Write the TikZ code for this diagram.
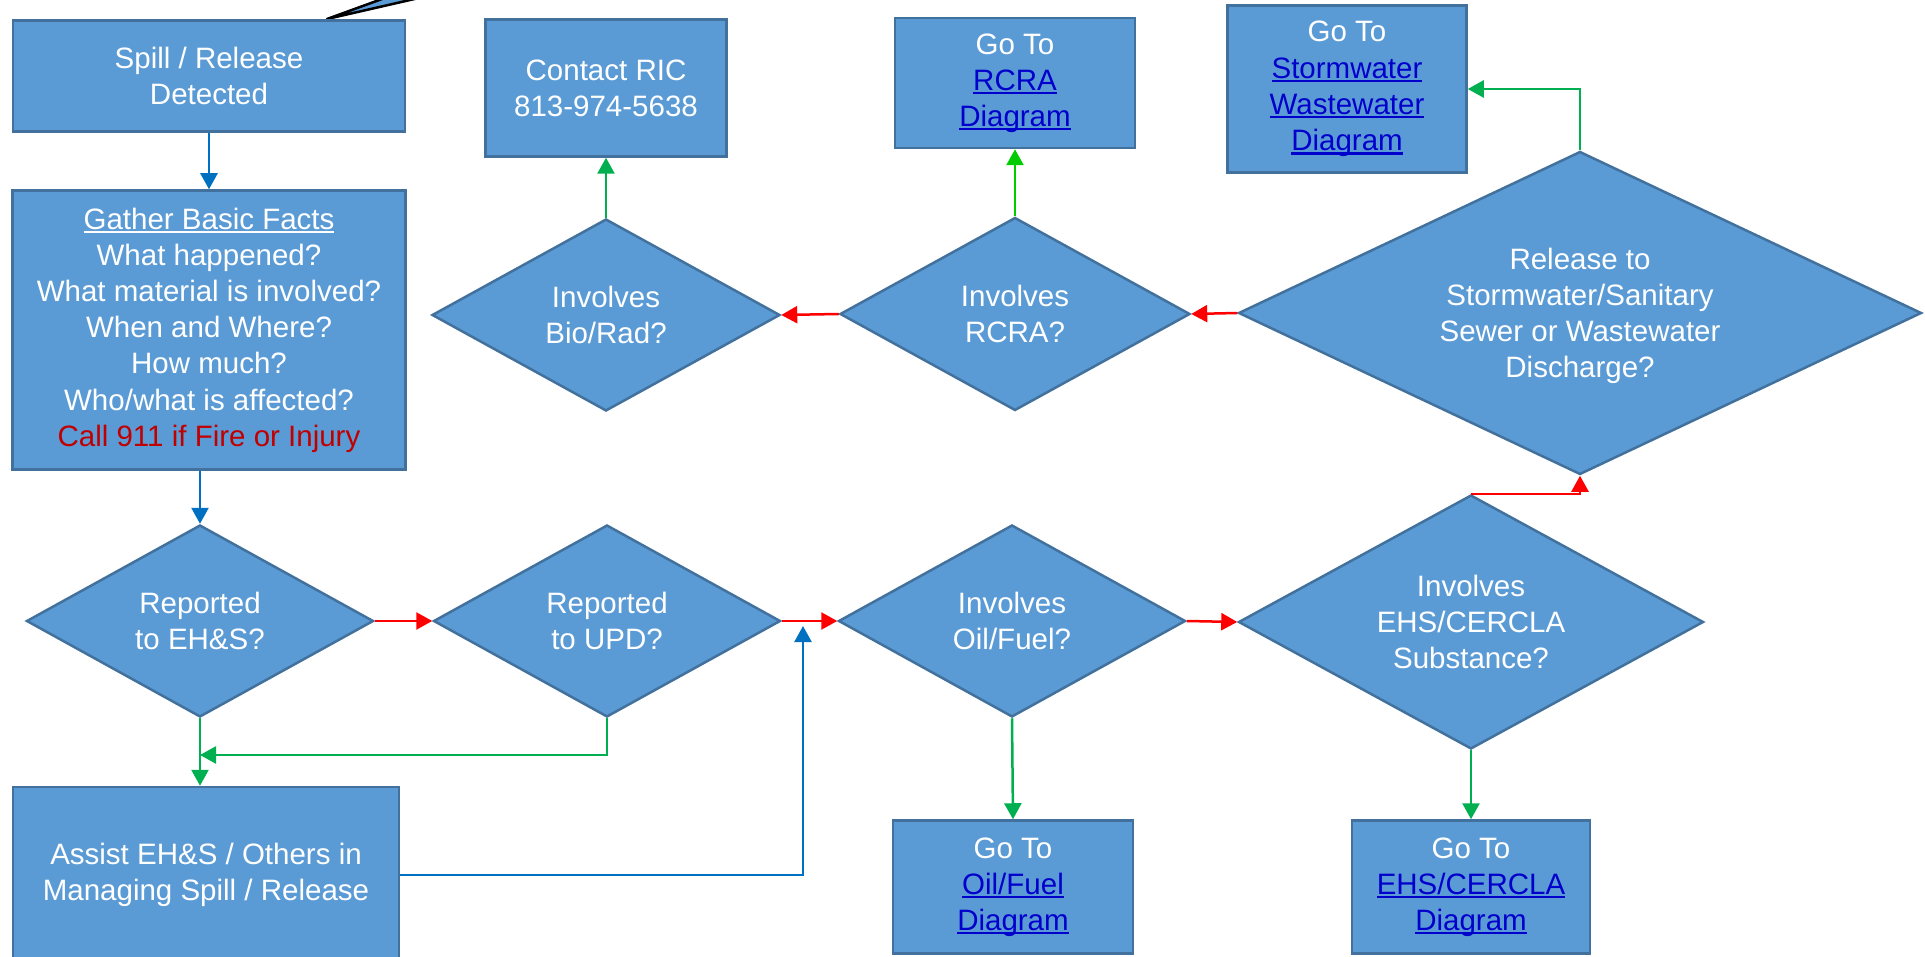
\documentclass[tikz,border=0pt]{standalone}
\usepackage{fontspec}
\setmainfont{Liberation Sans}
\usetikzlibrary{shapes.geometric,arrows.meta}

\definecolor{boxfill}{RGB}{91,155,213}
\definecolor{boxline}{RGB}{65,113,156}
\definecolor{nored}{RGB}{255,0,0}
\definecolor{yesgreen}{RGB}{0,176,80}
\definecolor{yesgreenb}{RGB}{0,204,0}
\definecolor{flowblue}{RGB}{0,112,192}
\definecolor{linkblue}{RGB}{0,0,204}
\definecolor{callred}{RGB}{192,0,0}

\newcommand{\myul}[1]{\setbox0\hbox{#1}\rlap{\rule[-4pt]{\wd0}{2.5pt}}\box0}
\newcommand{\golink}[1]{\textcolor{linkblue}{\myul{#1}}}

\begin{document}
\begin{tikzpicture}[x=1pt,y=-1pt,
		box/.style={rectangle, draw=boxline, fill=boxfill, line width=2.5pt, inner sep=0pt, text=white, align=center, font=\fontsize{29.5}{36.2}\selectfont},
		decision/.style={diamond, draw=boxline, fill=boxfill, line width=2.5pt, inner sep=0pt, text=white, align=center, font=\fontsize{29.5}{36}\selectfont},
		flow/.style={line width=2.5pt, -{Triangle[length=16pt,width=17pt]}}]
	\useasboundingbox (0,0) rectangle (1925,957);
	\clip (0,0) rectangle (1925,957);

	% pointer of a callout, cut off by the page
	\filldraw[fill=boxfill, draw=black, line width=2.5pt, line join=round] (327,19) -- (393,-5) -- (432,-5) -- cycle;

	\node[box, minimum width=392pt, minimum height=111pt] (spill) at (209,76) {Spill / Release\\Detected};
	\node[box, minimum width=393pt, minimum height=279pt] (facts) at (209,330) {\myul{Gather Basic Facts}\\What happened?\\What material is involved?\\When and Where?\\How much?\\Who/what is affected?\\\textcolor{callred}{Call 911 if Fire or Injury}};
	\node[box, minimum width=241pt, minimum height=137pt] (ric) at (606,88) {Contact RIC\\813-974-5638};
	\node[box, minimum width=240pt, minimum height=130pt] (rcrago) at (1015,83) {Go To\\\golink{RCRA}\\\golink{Diagram}};
	\node[box, minimum width=239pt, minimum height=167pt] (stormgo) at (1347,89) {Go To\\\golink{Stormwater}\\\golink{Wastewater}\\\golink{Diagram}};

	% upper row of questions
	\node[decision, minimum width=348pt, minimum height=192pt, aspect=1.8] (biorad) at (606,315) {Involves\\Bio/Rad?};
	\node[decision, minimum width=350pt, minimum height=193pt, aspect=1.8] (rcra) at (1015,314) {Involves\\RCRA?};
	\node[decision, minimum width=683pt, minimum height=323pt, aspect=2.1] (release) at (1580,313) {\\[-8pt]Release to\\Stormwater/Sanitary\\Sewer or Wastewater\\Discharge?};

	% lower row of questions
	\node[decision, minimum width=347pt, minimum height=192pt, aspect=1.8] (ehs) at (200,621) {Reported\\to EH\&S?};
	\node[decision, minimum width=347pt, minimum height=192pt, aspect=1.8] (upd) at (607,621) {Reported\\to UPD?};
	\node[decision, minimum width=347pt, minimum height=192pt, aspect=1.8] (oil) at (1012,621) {Involves\\Oil/Fuel?};
	\node[decision, minimum width=465pt, minimum height=254pt, aspect=1.83] (cercla) at (1471,622) {Involves\\EHS/CERCLA\\Substance?};

	\node[box, minimum width=386pt, minimum height=176pt] (assist) at (206,875) {Assist EH\&S / Others in\\Managing Spill / Release};
	\node[box, minimum width=240pt, minimum height=133pt] (oilgo) at (1013,887) {Go To\\\golink{Oil/Fuel}\\\golink{Diagram}};
	\node[box, minimum width=238pt, minimum height=133pt] (cerclago) at (1471,887) {Go To\\\golink{EHS/CERCLA}\\\golink{Diagram}};

	% down the left side
	\draw[flow, flowblue] (spill) -- (facts);
	\draw[flow, flowblue] (facts.south -| ehs.north) -- (ehs.north);

	% "no" answers
	\draw[flow, nored] (ehs.east) -- (upd.west);
	\draw[flow, nored] (upd.east) -- (oil.west);
	\draw[flow, nored] (oil.east) -- (cercla.west);
	\draw[flow, nored] (cercla.north) -| (release.south);
	\draw[flow, nored] (release.west) -- (rcra.east);
	\draw[flow, nored] (rcra.west) -- (biorad.east);

	% "yes" answers
	\draw[flow, yesgreen] (biorad.north) -- (biorad.north |- ric.south);
	\draw[flow, yesgreenb] (rcra.north) -- (rcra.north |- rcrago.south);
	\draw[flow, yesgreen] (release.north) |- (stormgo.east);
	\draw[flow, yesgreen] (ehs.south) -- (ehs.south |- assist.north);
	\coordinate (merge) at (200,755);
	\draw[flow, yesgreen] (upd.south) |- (merge);
	\draw[flow, yesgreen] (oil.south) -- (oilgo.north);
	\draw[flow, yesgreen] (cercla.south) -- (cerclago.north);

	% back into the lower row
	\coordinate (rejoin) at (803,626);
	\draw[flow, flowblue] (assist.east) -| (rejoin);
\end{tikzpicture}
\end{document}
